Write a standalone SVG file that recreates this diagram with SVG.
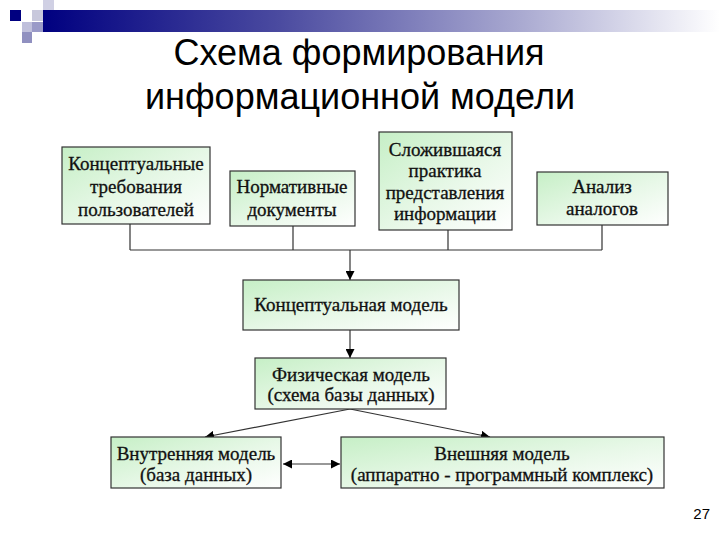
<svg xmlns="http://www.w3.org/2000/svg" width="720" height="540" viewBox="0 0 720 540">
<defs>
<linearGradient id="bar" x1="0" y1="0" x2="1" y2="0">
<stop offset="0" stop-color="#000080"/>
<stop offset="0.35" stop-color="#4b4ba0"/>
<stop offset="0.7" stop-color="#a8a8d0"/>
<stop offset="1" stop-color="#ffffff"/>
</linearGradient>
<linearGradient id="g" x1="0" y1="0" x2="1" y2="1">
<stop offset="0" stop-color="#c6efc6"/>
<stop offset="0.55" stop-color="#e8f8e8"/>
<stop offset="1" stop-color="#ffffff"/>
</linearGradient>
<marker id="ah" viewBox="0 0 10 10" refX="10" refY="5" markerWidth="9" markerHeight="9" markerUnits="userSpaceOnUse" orient="auto-start-reverse">
<path d="M0,0 L10,5 L0,10 z" fill="#000"/>
</marker>
<style>
.box{fill:url(#g);stroke:#333;stroke-width:1.2}
.t{font-family:"Liberation Serif","DejaVu Serif",serif;font-size:19px;fill:#111;stroke:#111;stroke-width:0.3;text-anchor:middle}
.ttl{font-family:"Liberation Sans",Arial,sans-serif;font-size:36px;fill:#000;text-anchor:middle}
.ln{stroke:#333;stroke-width:1.2;fill:none}
</style>
</defs>
<rect width="720" height="540" fill="#fff"/>
<g id="header">
<rect x="43" y="10" width="677" height="22" fill="url(#bar)"/>
<rect x="10" y="10" width="11" height="11" fill="#000080"/>
<rect x="32" y="10" width="11" height="11" fill="#c8c8dc"/>
<rect x="43" y="0" width="11" height="10" fill="#d0d0e4"/>
<rect x="22" y="22" width="10" height="10" fill="#c0c0dc"/>
<rect x="32" y="22" width="11" height="10" fill="#9a9ac8"/>
<rect x="22" y="32" width="10" height="11" fill="#9090c0"/>
</g>
<g id="title">
<text class="ttl" x="359" y="65">Схема формирования</text>
<text class="ttl" x="360" y="109">информационной модели</text>
</g>
<g id="connectors">
<path class="ln" d="M130,224 V250 M293,226 V250 M448,230 V250 M602,225 V250 M130,250 H602"/>
<path class="ln" d="M350,250 V280" marker-end="url(#ah)"/>
<path class="ln" d="M350,330 V358" marker-end="url(#ah)"/>
<path class="ln" d="M350,409 L205,437" marker-end="url(#ah)"/>
<path class="ln" d="M350,409 L490,437" marker-end="url(#ah)"/>
<path class="ln" d="M283,464 H340" marker-start="url(#ah)" marker-end="url(#ah)"/>
</g>
<g id="n1">
<rect class="box" x="62" y="147" width="148" height="77"/>
<text class="t" x="136" y="170">Концептуальные</text>
<text class="t" x="136" y="193">требования</text>
<text class="t" x="136" y="216">пользователей</text>
</g>
<g id="n2">
<rect class="box" x="230" y="171" width="125" height="55"/>
<text class="t" x="292" y="193">Нормативные</text>
<text class="t" x="292" y="216">документы</text>
</g>
<g id="n3">
<rect class="box" x="379" y="132" width="133" height="98"/>
<text class="t" x="445" y="156">Сложившаяся</text>
<text class="t" x="445" y="177">практика</text>
<text class="t" x="445" y="199">представления</text>
<text class="t" x="445" y="220">информации</text>
</g>
<g id="n4">
<rect class="box" x="537" y="172" width="131" height="53"/>
<text class="t" x="602" y="193">Анализ</text>
<text class="t" x="602" y="215">аналогов</text>
</g>
<g id="n5">
<rect class="box" x="243" y="280" width="216" height="50"/>
<text class="t" x="351" y="311">Концептуальная модель</text>
</g>
<g id="n6">
<rect class="box" x="255" y="358" width="191" height="51"/>
<text class="t" x="351" y="381">Физическая модель</text>
<text class="t" x="351" y="401">(схема базы данных)</text>
</g>
<g id="n7">
<rect class="box" x="111" y="437" width="170" height="51"/>
<text class="t" x="196" y="460">Внутренняя модель</text>
<text class="t" x="196" y="481">(база данных)</text>
</g>
<g id="n8">
<rect class="box" x="341" y="437" width="323" height="51"/>
<text class="t" x="502" y="460">Внешняя модель</text>
<text class="t" x="502" y="481">(аппаратно - программный комплекс)</text>
</g>
<text x="710" y="519" font-family="Liberation Sans,Arial,sans-serif" font-size="15" text-anchor="end" fill="#000">27</text>
</svg>
